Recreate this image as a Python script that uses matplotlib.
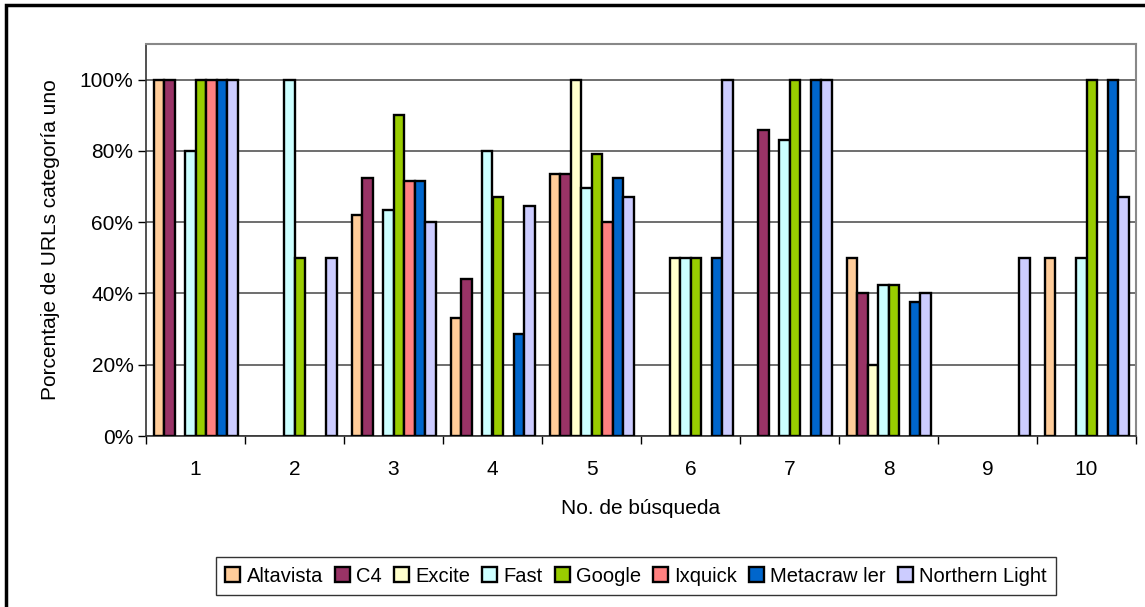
import numpy as np
import matplotlib.pyplot as plt
from matplotlib.patches import Rectangle
from matplotlib.ticker import FuncFormatter

plt.rcParams['font.family'] = ['Liberation Sans', 'DejaVu Sans']

busquedas = ['1', '2', '3', '4', '5', '6', '7', '8', '9', '10']
buscadores = ['Altavista', 'C4', 'Excite', 'Fast', 'Google', 'Ixquick',
              'Metacraw ler', 'Northern Light']
colores = ['#FFCC99', '#993366', '#FFFFCC', '#CCFFFF', '#99CC00', '#FF8080',
           '#0066CC', '#CCCCFF']

# porcentaje de URLs de categoria uno, por buscador (una lista por buscador)
altavista = [100, 0, 62, 33, 73.5, 0, 0, 50, 0, 50]
c4 = [100, 0, 72.5, 44, 73.5, 0, 86, 40, 0, 0]
excite = [0, 0, 0, 0, 100, 50, 0, 20, 0, 0]
fast = [80, 100, 63.5, 80, 69.5, 50, 83, 42.5, 0, 50]
google = [100, 50, 90, 67, 79, 50, 100, 42.5, 0, 100]
ixquick = [100, 0, 71.5, 0, 60, 0, 0, 0, 0, 0]
metacrawler = [100, 0, 71.5, 28.5, 72.5, 50, 100, 37.5, 0, 100]
northern = [100, 50, 60, 64.5, 67, 100, 100, 40, 50, 67]
series = [altavista, c4, excite, fast, google, ixquick, metacrawler, northern]

fig = plt.figure(figsize=(11.45, 6.07), dpi=100)
ax = fig.add_axes([146/1145, 1 - 436/607, 990/1145, 392/607])

x = np.arange(len(busquedas))
w = 10.5 / 99
for j, (vals, col, name) in enumerate(zip(series, colores, buscadores)):
    vals = np.array(vals, dtype=float) / 100.0
    m = vals > 0   # Excel no dibuja las barras con valor cero
    ax.bar((x + (j - 3.5)*w)[m], vals[m], w, color=col,
           edgecolor='black', linewidth=1.7, label=name, zorder=3)

ax.set_xlim(-0.5, len(busquedas) - 0.5)
ax.set_ylim(0, 1.1)
ax.set_yticks(np.arange(0, 1.01, 0.2))
ax.yaxis.set_major_formatter(FuncFormatter(lambda v, p: '%d%%' % round(v*100)))
ax.set_xticks(x)
ax.set_xticklabels(busquedas)
ax.set_xticks(np.arange(-0.5, len(busquedas), 1), minor=True)
ax.tick_params(axis='x', which='major', length=0, pad=17, labelsize=15)
ax.tick_params(axis='x', which='minor', length=6, width=1, direction='out')
ax.tick_params(axis='y', length=6, width=1, direction='out', labelsize=15, pad=3)
ax.grid(axis='y', color='#555555', linewidth=1.2, zorder=0)
ax.set_axisbelow(True)

for s in ['top', 'right']:
    ax.spines[s].set_color('#888888')
    ax.spines[s].set_linewidth(1.5)
for s in ['left', 'bottom']:
    ax.spines[s].set_color('#333333')
    ax.spines[s].set_linewidth(1.2)

ax.set_xlabel('No. de búsqueda', fontsize=15, labelpad=15)
ax.set_ylabel('Porcentaje de URLs categoría uno', fontsize=15, labelpad=14)

leg = fig.legend(loc='center', bbox_to_anchor=(636/1145, 1 - 576/607), ncol=8,
                 fontsize=14.5, frameon=True, fancybox=False, handlelength=0.75,
                 handleheight=0.75, handletextpad=0.3, columnspacing=0.6,
                 borderpad=0.45)
leg.get_frame().set_edgecolor('black')
leg.get_frame().set_linewidth(1.0)

# marco exterior del grafico
fig.patches.append(Rectangle((6/1145, -0.05), 1.2, 1 - 5/607 + 0.05,
                             transform=fig.transFigure, fill=False,
                             edgecolor='black', linewidth=2.5))

fig.savefig('out.png', dpi=100)
